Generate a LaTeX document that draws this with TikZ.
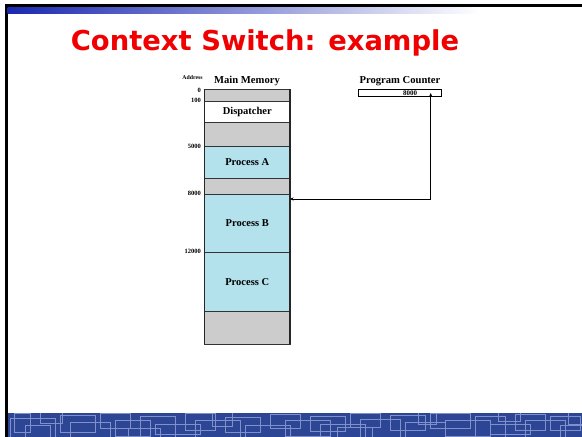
\documentclass[tikz,border=0pt]{standalone}
\usepackage{fontspec}
\setmainfont{Liberation Serif}
\newfontfamily\titlefont{DejaVu Sans}
\usetikzlibrary{arrows.meta}
\definecolor{memgray}{HTML}{CCCCCC}
\definecolor{procblue}{HTML}{B3E2EC}
\definecolor{titlered}{HTML}{F00000}
\definecolor{bandblue}{HTML}{2D4595}
\definecolor{bandline}{HTML}{8090C8}
\definecolor{barblue}{HTML}{1A28B0}
\tikzset{
  cell/.style={draw=black!80, line width=0.8pt, minimum width=85.5pt, inner sep=0pt, outer sep=0pt, font=\bfseries\fontsize{10.5}{12}\selectfont},
  addr/.style={anchor=east, inner sep=0pt, font=\bfseries\fontsize{6.5}{7}\selectfont},
  head/.style={inner sep=0pt, font=\bfseries\fontsize{10.6}{12}\selectfont},
  ptr/.style={line width=0.8pt, {Stealth[length=3.5pt,width=3pt]}-{Stealth[length=3.5pt,width=3pt]}},
  patline/.style={draw=bandline, line width=0.9pt}
}
\begin{document}
\begin{tikzpicture}[x=1pt,y=-1pt]
\useasboundingbox (0,0) rectangle (582,437);
\fill[white] (0,0) rectangle (582,437);
% frame
\fill[black] (5,4) rectangle (582,7);
\fill[black] (5,4) rectangle (7.5,437);
\shade[left color=barblue, right color=white] (7.5,7) rectangle (480,13);
% bottom band
\fill[bandblue] (7.5,413) rectangle (582,437);
\begin{scope}
\clip (7.5,413) rectangle (582,437);
\foreach \a/\b/\c/\d in {10/418/55/440, 25/425/50/445, 14/413/30/432, 60/415/95/432, 70/422/110/440, 100/413/130/428, 115/420/150/436, 140/416/175/442, 155/424/200/434, 185/413/215/430, 195/420/240/445, 225/417/260/432, 245/425/290/440, 270/414/300/428, 285/420/330/436, 310/416/345/431, 320/424/365/445, 350/413/380/427, 360/419/400/438, 390/415/425/430, 405/422/445/442, 430/413/470/428, 445/420/490/436, 475/416/505/444, 490/424/530/434, 515/414/545/430, 525/420/565/440, 550/416/580/430, 560/425/590/445, 40/410/62/423, 128/428/160/445, 212/410/232/426, 337/427/372/445, 418/408/436/424, 498/409/520/421, 568/409/590/424}
  \draw[patline] (\a,\b) rectangle (\c,\d);
\end{scope}
% title
\node[anchor=base, inner sep=0pt, text=titlered, font=\titlefont\bfseries\fontsize{27.4}{30}\selectfont] (title) at (265,50) {Context Switch: example};
% memory
\node[cell, fill=memgray, minimum height=12.7pt] (m0) at (247.25,95.35) {};
\node[cell, fill=white, minimum height=20.6pt] (disp) at (247.25,112) {Dispatcher};
\node[cell, fill=memgray, minimum height=24.4pt] (m2) at (247.25,134.5) {};
\node[cell, fill=procblue, minimum height=31.6pt] (pa) at (247.25,162.5) {Process A};
\node[cell, fill=memgray, minimum height=16.2pt] (m4) at (247.25,186.4) {};
\node[cell, fill=procblue, minimum height=58.2pt] (pb) at (247.25,223.6) {Process B};
\node[cell, fill=procblue, minimum height=58.3pt] (pc) at (247.25,281.85) {Process C};
\node[cell, fill=memgray, minimum height=33pt] (m7) at (247.25,327.5) {};
\draw[black!85, line width=1.5pt] (m0.north west) -- (m7.south west);
\draw[black!85, line width=1.5pt] (m0.north east) -- (m7.south east);
% headings
\node[head] (mmhead) at (247,80.5) {Main Memory};
\node[inner sep=0pt, font=\bfseries\fontsize{5.8}{6}\selectfont] (addrhead) at (192.5,77.5) {Address};
% addresses
\node[addr] (a0) at (201,90) {0};
\node[addr] (a100) at (201,100.5) {100};
\node[addr] (a5000) at (201,146.5) {5000};
\node[addr] (a8000) at (201,193.5) {8000};
\node[addr] (a12000) at (201,251.5) {12000};
% program counter
\node[head] (pchead) at (400,81) {Program Counter};
\node[draw, line width=0.8pt, minimum width=83.4pt, minimum height=7.2pt, inner sep=0pt] (pcbox) at (400,92.9) {};
\node[inner sep=0pt, font=\bfseries\fontsize{7}{7}\selectfont] (pcval) at (410,93) {8000};
\coordinate (pcptr) at (430.7,93);
\coordinate (bend) at (430.7,199);
\draw[ptr] (pcptr) -- (bend) -- (pb.east |- bend);
\end{tikzpicture}
\end{document}
